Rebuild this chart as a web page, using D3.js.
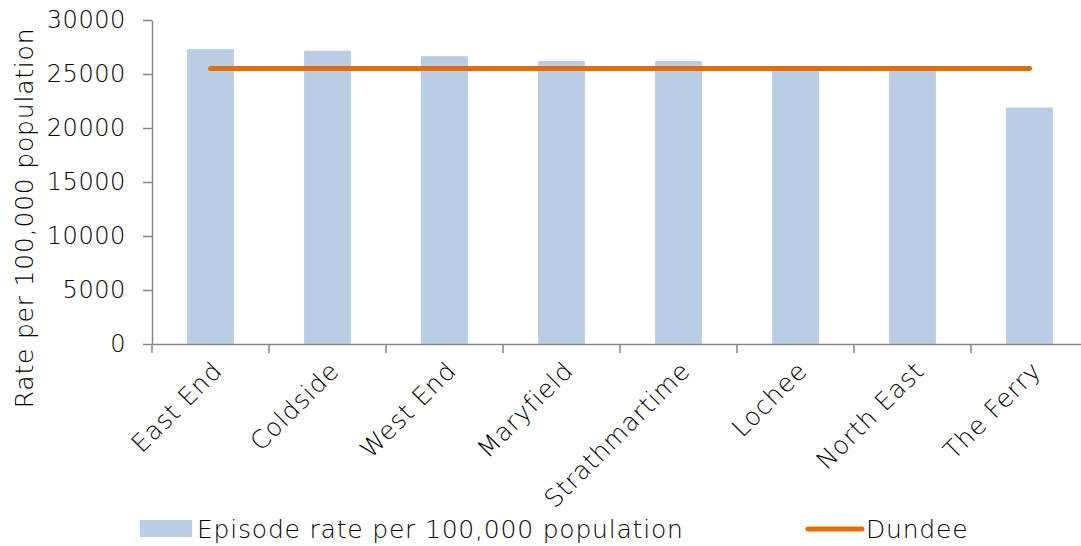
<!DOCTYPE html>
<html>
<head>
<meta charset="utf-8">
<script src="https://cdn.jsdelivr.net/npm/d3@7"></script>
<style>
  body { margin: 0; background: #fff; }
  svg { display: block; font-family: "Century Gothic", "URW Gothic", "DejaVu Sans", sans-serif; font-weight: 300; }
  .lbl { font-size: 25px; letter-spacing: 0.8px; fill: #000; }
</style>
</head>
<body>
<div id="chart"></div>
<script>
// data
const areas = ["East End", "Coldside", "West End", "Maryfield", "Strathmartime", "Lochee", "North East", "The Ferry"];
const episodeRates = [27300, 27150, 26650, 26200, 26200, 25550, 25500, 21900];
const dundeeRate = [25500, 25500, 25500, 25500, 25500, 25500, 25500, 25500];
const yTicks = [0, 5000, 10000, 15000, 20000, 25000, 30000];

const width = 1081, height = 546;
const svg = d3.select("#chart").append("svg")
    .attr("width", width)
    .attr("height", height);

const x = d3.scaleBand()
    .domain(areas)
    .range([152, 1088])
    .paddingInner(0.6)
    .paddingOuter(0.3);
const xTick = d3.scaleBand().domain(areas).range([152, 1088]);

const y = d3.scaleLinear()
    .domain([0, 30000])
    .range([344, 20]);

// bars
svg.append("g").selectAll("rect")
    .data(areas)
    .enter().append("rect")
    .attr("x", d => x(d))
    .attr("y", (d, i) => y(episodeRates[i]))
    .attr("width", x.bandwidth())
    .attr("height", (d, i) => y(0) - y(episodeRates[i]))
    .style("fill", "#b9cde5");

// y axis
const yAxis = svg.append("g")
    .attr("transform", "translate(152,0)")
    .call(d3.axisLeft(y).tickValues(yTicks).tickFormat(d3.format("d")).tickSize(9).tickSizeOuter(0).tickPadding(17))
    .attr("font-family", null)
    .attr("font-size", null);
yAxis.select(".domain").attr("stroke", "#868686").attr("stroke-width", 1.5);
yAxis.selectAll(".tick line").attr("stroke", "#868686").attr("stroke-width", 1.5);
yAxis.selectAll("text").attr("class", "lbl").style("font-size", "24px").style("letter-spacing", "0.6px");

// x axis
const xAxis = svg.append("g")
    .attr("transform", "translate(0,344)")
    .call(d3.axisBottom(xTick).tickSize(0).tickFormat(""));
xAxis.select(".domain").attr("stroke", "#868686").attr("stroke-width", 1.5);
svg.append("g").selectAll("line")
    .data(areas.concat(["end"]))
    .enter().append("line")
    .attr("x1", (d, i) => 152 + i * xTick.bandwidth())
    .attr("x2", (d, i) => 152 + i * xTick.bandwidth())
    .attr("y1", 344)
    .attr("y2", 353)
    .attr("stroke", "#868686")
    .attr("stroke-width", 1.5);

svg.append("g").selectAll("text")
    .data(areas)
    .enter().append("text")
    .attr("class", "lbl")
    .attr("transform", d => `translate(${x(d) + x.bandwidth() / 2 + 7},${366}) rotate(-45)`)
    .attr("text-anchor", "end")
    .attr("dy", "0.35em")
    .text(d => d);

// Dundee line
const line = d3.line()
    .x((d, i) => x(areas[i]) + x.bandwidth() / 2)
    .y(d => y(d));
svg.append("path")
    .datum(dundeeRate)
    .attr("d", line)
    .attr("fill", "none")
    .attr("stroke", "#e46c0a")
    .attr("stroke-width", 5)
    .attr("stroke-linecap", "round");

// y title
svg.append("text")
    .attr("class", "lbl")
    .attr("transform", "translate(33,218) rotate(-90)")
    .attr("text-anchor", "middle")
    .text("Rate per 100,000 population");

// legend
svg.append("rect")
    .attr("x", 140).attr("y", 520).attr("width", 52).attr("height", 17)
    .style("fill", "#b9cde5");
svg.append("text")
    .attr("class", "lbl")
    .attr("x", 197).attr("y", 538)
    .text("Episode rate per 100,000 population");
svg.append("line")
    .attr("x1", 808).attr("x2", 862).attr("y1", 529).attr("y2", 529)
    .attr("stroke", "#e46c0a").attr("stroke-width", 5).attr("stroke-linecap", "round");
svg.append("text")
    .attr("class", "lbl")
    .attr("x", 866).attr("y", 538)
    .text("Dundee");
</script>
</body>
</html>
